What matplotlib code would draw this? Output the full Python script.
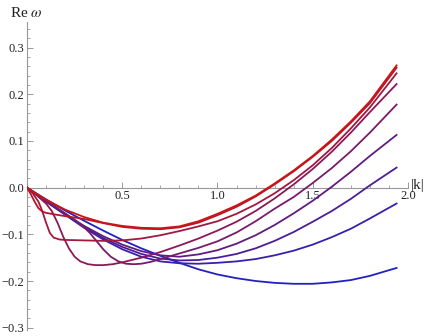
import matplotlib
matplotlib.use('Agg')
import matplotlib.pyplot as plt
import numpy as np

# Re(omega) vs |k|, one curve per parameter value (red -> blue)
k_1 = [0, 0.1, 0.2, 0.3, 0.4, 0.5, 0.6, 0.7, 0.8, 0.9, 1.0, 1.1, 1.2, 1.3, 1.4, 1.5, 1.6, 1.7, 1.8, 1.94]
w_1 = [0, -0.026, -0.047, -0.063, -0.075, -0.082, -0.086, -0.087, -0.083, -0.072, -0.056, -0.038, -0.017, 0.009, 0.037, 0.068, 0.103, 0.142, 0.185, 0.262]

k_2 = [0, 0.02, 0.04, 0.06, 0.08, 0.1, 0.14, 0.2, 0.3, 0.4, 0.5, 0.6, 0.7, 0.8, 0.9, 1.0, 1.1, 1.2, 1.3, 1.4, 1.5, 1.6, 1.7, 1.8, 1.94]
w_2 = [0, -0.014, -0.030, -0.044, -0.051, -0.054, -0.057, -0.061, -0.067, -0.076, -0.084, -0.088, -0.089, -0.085, -0.075, -0.059, -0.041, -0.019, 0.007, 0.035, 0.066, 0.100, 0.139, 0.181, 0.257]

k_3 = [0, 0.03, 0.06, 0.08, 0.1, 0.12, 0.14, 0.17, 0.2, 0.3, 0.4, 0.5, 0.6, 0.7, 0.8, 0.9, 1.0, 1.1, 1.2, 1.3, 1.4, 1.5, 1.6, 1.7, 1.8, 1.94]
w_3 = [0, -0.012, -0.030, -0.050, -0.075, -0.097, -0.107, -0.111, -0.112, -0.113, -0.114, -0.113, -0.109, -0.102, -0.093, -0.083, -0.072, -0.056, -0.036, -0.012, 0.016, 0.048, 0.085, 0.127, 0.172, 0.245]

k_4 = [0, 0.05, 0.1, 0.13, 0.16, 0.19, 0.22, 0.25, 0.28, 0.32, 0.36, 0.4, 0.45, 0.5, 0.6, 0.7, 0.8, 0.9, 1.0, 1.1, 1.2, 1.3, 1.4, 1.5, 1.6, 1.7, 1.8, 1.94]
w_4 = [0, -0.016, -0.034, -0.050, -0.075, -0.105, -0.130, -0.148, -0.158, -0.164, -0.166, -0.166, -0.164, -0.160, -0.150, -0.138, -0.124, -0.109, -0.092, -0.073, -0.050, -0.023, 0.007, 0.040, 0.077, 0.118, 0.162, 0.222]

k_5 = [0, 0.1, 0.2, 0.25, 0.3, 0.33, 0.36, 0.4, 0.44, 0.48, 0.52, 0.56, 0.6, 0.65, 0.7, 0.8, 0.9, 1.0, 1.1, 1.2, 1.3, 1.4, 1.5, 1.6, 1.7, 1.8, 1.94]
w_5 = [0, -0.028, -0.055, -0.069, -0.085, -0.097, -0.112, -0.132, -0.148, -0.158, -0.163, -0.164, -0.163, -0.159, -0.153, -0.141, -0.129, -0.115, -0.096, -0.072, -0.045, -0.020, 0.010, 0.042, 0.078, 0.118, 0.178]

k_6 = [0, 0.1, 0.2, 0.3, 0.4, 0.5, 0.6, 0.7, 0.8, 0.9, 1.0, 1.1, 1.2, 1.3, 1.4, 1.5, 1.6, 1.7, 1.8, 1.94]
w_6 = [0, -0.029, -0.056, -0.082, -0.104, -0.122, -0.136, -0.145, -0.148, -0.143, -0.134, -0.120, -0.102, -0.080, -0.055, -0.028, 0.002, 0.034, 0.068, 0.113]

k_7 = [0, 0.1, 0.2, 0.3, 0.4, 0.5, 0.6, 0.7, 0.8, 0.9, 1.0, 1.1, 1.2, 1.3, 1.4, 1.5, 1.6, 1.7, 1.8, 1.94]
w_7 = [0, -0.029, -0.057, -0.084, -0.108, -0.127, -0.142, -0.152, -0.156, -0.155, -0.150, -0.142, -0.130, -0.114, -0.095, -0.073, -0.050, -0.024, 0.005, 0.043]

k_8 = [0, 0.1, 0.2, 0.3, 0.4, 0.5, 0.6, 0.7, 0.8, 0.9, 1.0, 1.1, 1.2, 1.3, 1.4, 1.5, 1.6, 1.7, 1.8, 1.94]
w_8 = [0, -0.030, -0.058, -0.086, -0.111, -0.132, -0.148, -0.158, -0.162, -0.163, -0.161, -0.158, -0.153, -0.145, -0.135, -0.122, -0.106, -0.088, -0.066, -0.034]

k_9 = [0, 0.1, 0.2, 0.3, 0.4, 0.5, 0.6, 0.7, 0.8, 0.9, 1.0, 1.1, 1.2, 1.3, 1.4, 1.5, 1.6, 1.7, 1.8, 1.94]
w_9 = [0, -0.025, -0.049, -0.071, -0.092, -0.112, -0.130, -0.146, -0.161, -0.175, -0.186, -0.194, -0.200, -0.204, -0.206, -0.206, -0.203, -0.198, -0.189, -0.172]

curves = [(k_1, w_1), (k_2, w_2), (k_3, w_3), (k_4, w_4), (k_5, w_5),
          (k_6, w_6), (k_7, w_7), (k_8, w_8), (k_9, w_9)]

x_major = [0.5, 1.0, 1.5, 2.0]
x_labels = ['0.5', '1.0', '1.5', '2.0']
y_major = [-0.3, -0.2, -0.1, 0.0, 0.1, 0.2, 0.3]
y_labels = ['\u22120.3', '\u22120.2', '\u22120.1', '0.0', '0.1', '0.2', '0.3']

plt.rcParams['mathtext.fontset'] = 'stix'
serif = 'Liberation Serif'

fig = plt.figure(figsize=(4.31, 3.36), dpi=100)
ax = fig.add_axes([27/431, 6/336, 381/431, 308/336])
ax.set_xlim(0, 2.0)
ax.set_ylim(-0.305, 0.355)

red = np.array([0.80, 0.08, 0.08])
blue = np.array([0.13, 0.13, 0.76])
n = len(curves)
for i, (kk, ww) in enumerate(curves):
    t = i / (n - 1)
    col = (1 - t) * red + t * blue
    ax.plot(kk, ww, '-', color=col, lw=1.3, solid_joinstyle='round', zorder=3 + n - i)

for s in ['top', 'right']:
    ax.spines[s].set_visible(False)
ax.spines['left'].set_position(('data', 0))
ax.spines['bottom'].set_position(('data', 0))
for s in ['left', 'bottom']:
    ax.spines[s].set_color('#999999')
    ax.spines[s].set_linewidth(0.8)

ax.set_xticks(x_major)
ax.set_xticklabels(x_labels)
ax.set_xticks([v / 10 for v in range(1, 20) if v % 5 != 0], minor=True)
ax.set_yticks(y_major)
ax.set_yticklabels(y_labels)
ax.set_yticks([v / 50 for v in range(-15, 18) if v % 5 != 0], minor=True)

ax.tick_params(which='major', direction='in', length=4, width=0.7, color='#999999',
               labelsize=9, pad=2)
ax.tick_params(which='minor', direction='in', length=2.2, width=0.6, color='#999999')
for lab in ax.get_xticklabels() + ax.get_yticklabels():
    lab.set_family(serif)
    lab.set_color('#222222')

fig.text(10/431, 1 - 13/336, r'Re $\omega$', family=serif, fontsize=11,
         ha='left', va='center', color='#222222')
fig.text(411/431, 1 - 186/336, '|k|', family=serif, fontsize=11,
         ha='left', va='center', color='#222222')

fig.savefig('out.png', dpi=100)
